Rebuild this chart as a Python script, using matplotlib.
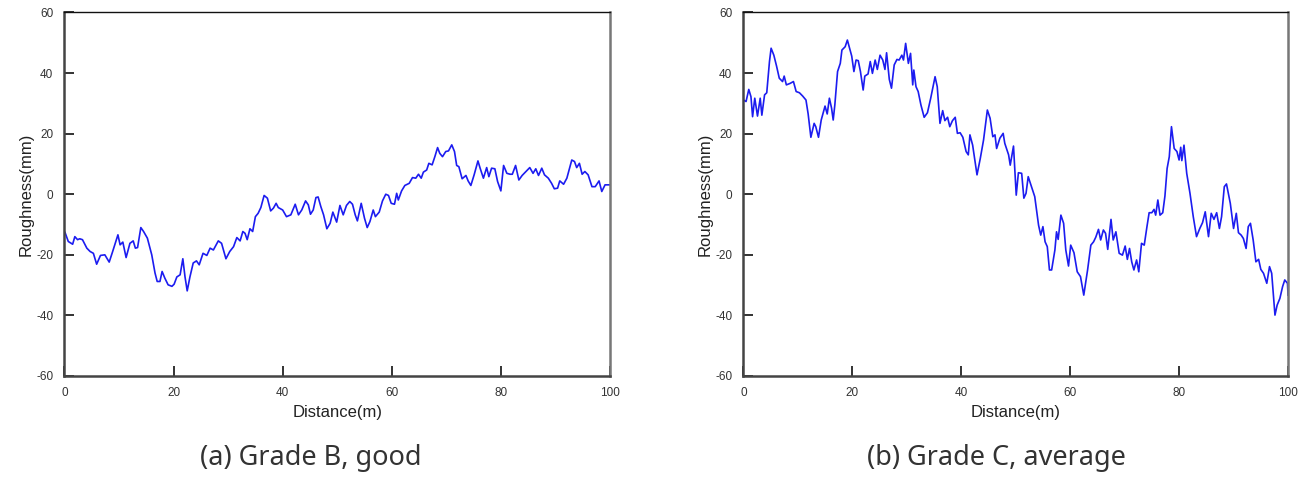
import matplotlib
matplotlib.use("Agg")
import matplotlib.pyplot as plt

# Grade B, good (left panel)
dist_b = [0.1, 0.7, 1.5, 1.9, 2.4, 2.8, 3.3, 4.1, 4.7, 5.3, 5.9, 6.6, 7.4, 8.2, 8.8,
          9.3, 9.8, 10.2, 10.7, 11.3, 12.0, 12.6, 13.0, 13.4, 14.0, 14.5, 15.2, 16.0,
          16.6, 17.0, 17.5, 17.9, 18.4, 19.0, 19.7, 20.1, 20.6, 21.2, 21.7, 22.1, 22.5,
          23.0, 23.6, 24.2, 24.7, 25.4, 26.1, 26.7, 27.3, 28.2, 28.8, 29.6, 30.3, 31.0,
          31.6, 32.2, 32.7, 33.1, 33.5, 34.0, 34.5, 35.0, 35.5, 36.0, 36.6, 37.2, 37.8,
          38.3, 38.8, 39.2, 40.0, 40.7, 41.5, 42.3, 42.9, 43.5, 44.2, 44.7, 45.1, 45.6,
          46.1, 46.5, 47.0, 47.5, 48.1, 48.7, 49.2, 49.9, 50.5, 51.1, 51.7, 52.3, 52.8,
          53.3, 53.7, 54.4, 55.0, 55.5, 56.0, 56.6, 57.0, 57.7, 58.3, 58.9, 59.4, 59.9,
          60.5, 60.9, 61.2, 61.8, 62.4, 63.2, 63.8, 64.4, 64.9, 65.4, 65.8, 66.4, 66.8,
          67.4, 67.9, 68.4, 68.8, 69.3, 69.9, 70.4, 71.0, 71.5, 71.9, 72.3, 72.9, 73.6,
          74.0, 74.5, 75.1, 75.8, 76.2, 76.8, 77.4, 77.8, 78.3, 78.9, 79.4, 80.0, 80.5,
          81.1, 81.7, 82.1, 82.7, 83.3, 83.9, 84.7, 85.3, 85.9, 86.4, 86.9, 87.5, 88.0,
          88.7, 89.3, 89.8, 90.4, 90.8, 91.5, 92.1, 92.5, 93.0, 93.5, 93.9, 94.4, 94.9,
          95.4, 96.0, 96.7, 97.3, 98.0, 98.5, 99.1, 100.0]
rough_b = [-12.6, -15.6, -16.5, -14.0, -15.0, -14.7, -15.0, -17.8, -18.9, -19.5, -23.1,
           -20.2, -20.0, -22.4, -19.1, -16.2, -13.4, -16.7, -15.8, -20.9, -16.2, -15.4,
           -17.8, -17.6, -11.0, -12.3, -14.5, -20.0, -26.0, -28.8, -28.8, -25.5, -27.7,
           -29.9, -30.4, -29.7, -27.3, -26.6, -21.3, -27.3, -31.9, -27.3, -22.7, -22.0,
           -23.3, -19.5, -20.2, -17.8, -18.4, -15.4, -16.2, -21.3, -18.9, -17.3, -14.3,
           -15.4, -12.3, -12.9, -15.0, -11.4, -12.3, -7.4, -6.3, -4.4, -0.4, -1.3, -5.5,
           -4.6, -3.0, -4.4, -5.2, -7.4, -6.8, -3.3, -6.8, -5.2, -2.2, -3.5, -6.6, -5.2,
           -1.1, -0.9, -4.1, -6.8, -11.4, -9.6, -5.9, -9.2, -3.7, -6.8, -3.7, -2.4, -3.3,
           -6.8, -8.8, -3.0, -7.9, -11.0, -9.0, -5.2, -7.4, -5.9, -2.2, 0.0, -0.4, -3.0,
           -3.3, 0.3, -1.9, 1.1, 2.9, 3.6, 5.5, 5.3, 6.6, 5.3, 7.3, 8.0, 10.2, 9.7, 12.4,
           15.4, 13.5, 12.4, 14.1, 14.3, 16.3, 14.1, 9.5, 9.1, 5.1, 6.2, 4.4, 2.9, 6.4,
           11.0, 8.6, 5.3, 8.8, 5.8, 8.6, 8.4, 4.2, 1.1, 9.5, 6.9, 6.6, 6.6, 9.5, 4.7,
           6.2, 7.7, 8.8, 6.9, 8.4, 6.2, 8.6, 6.4, 5.3, 3.6, 1.8, 2.0, 4.4, 3.3, 5.3, 8.0,
           11.3, 10.8, 8.8, 10.2, 6.6, 7.5, 6.4, 2.5, 2.5, 4.4, 0.9, 3.1, 3.1]

# Grade C, average (right panel)
dist_c = [0.0, 0.5, 1.0, 1.4, 1.7, 2.1, 2.6, 3.1, 3.4, 3.9, 4.3, 4.8, 5.1, 5.6, 6.1,
          6.6, 7.2, 7.5, 7.9, 8.6, 9.2, 9.7, 10.3, 10.9, 11.5, 11.9, 12.4, 13.0, 13.3,
          13.8, 14.3, 15.0, 15.4, 15.8, 16.2, 16.5, 16.8, 17.3, 17.8, 18.1, 18.7, 19.1,
          19.5, 19.9, 20.3, 20.7, 21.1, 21.5, 22.0, 22.3, 22.9, 23.3, 23.7, 24.2, 24.6,
          25.1, 25.6, 26.0, 26.3, 26.8, 27.2, 27.7, 28.2, 28.6, 29.1, 29.4, 29.8, 30.3,
          30.7, 31.1, 31.3, 31.7, 32.1, 32.6, 33.2, 33.8, 34.4, 35.2, 35.6, 36.1, 36.6,
          37.0, 37.5, 37.9, 38.4, 38.9, 39.3, 39.8, 40.3, 40.9, 41.3, 41.6, 42.1, 42.9,
          43.5, 44.1, 44.8, 45.3, 45.8, 46.2, 46.5, 47.1, 47.7, 48.0, 48.7, 49.0, 49.6,
          50.1, 50.5, 51.1, 51.5, 51.9, 52.3, 52.9, 53.5, 54.2, 54.6, 55.0, 55.4, 55.8,
          56.2, 56.6, 57.2, 57.5, 57.8, 58.3, 58.8, 59.2, 59.7, 60.1, 60.7, 61.3, 61.9,
          62.5, 63.2, 63.8, 64.3, 64.7, 65.2, 65.6, 66.1, 66.5, 66.9, 67.5, 67.9, 68.4,
          69.0, 69.6, 70.1, 70.5, 70.9, 71.3, 71.7, 72.2, 72.6, 73.1, 73.6, 74.1, 74.5,
          75.0, 75.4, 75.7, 76.1, 76.5, 77.0, 77.4, 77.8, 78.2, 78.6, 79.1, 79.6, 80.0,
          80.3, 80.5, 80.9, 81.4, 82.0, 82.6, 83.2, 83.8, 84.3, 84.8, 85.4, 85.9, 86.4,
          86.9, 87.4, 87.8, 88.3, 88.7, 89.4, 90.0, 90.5, 90.9, 91.4, 91.8, 92.3, 92.7,
          93.1, 93.6, 94.1, 94.6, 95.0, 95.5, 96.1, 96.6, 97.0, 97.6, 98.0, 98.5, 99.0,
          99.4, 99.9, 100.0]
rough_c = [31.1, 30.6, 34.6, 32.2, 25.6, 31.7, 25.8, 31.7, 26.1, 32.8, 33.5, 43.8,
           48.2, 45.9, 42.3, 38.3, 37.2, 39.0, 36.1, 36.6, 37.2, 33.9, 33.5, 32.4, 31.1,
           26.5, 18.8, 23.4, 22.3, 18.8, 24.5, 29.1, 26.5, 31.7, 28.4, 24.5, 29.5, 40.5,
           43.2, 47.6, 48.7, 50.9, 48.2, 45.6, 40.5, 44.3, 44.1, 40.5, 34.4, 39.0, 39.7,
           43.8, 39.9, 44.3, 41.2, 45.9, 44.3, 41.2, 46.7, 37.9, 35.0, 42.7, 44.5, 44.3,
           45.9, 44.3, 49.8, 43.2, 46.5, 36.1, 41.0, 35.5, 33.9, 29.5, 25.4, 26.9, 31.7,
           38.8, 35.5, 23.4, 27.6, 24.3, 25.4, 22.3, 24.3, 25.4, 20.1, 20.3, 18.8, 14.1,
           13.0, 19.6, 16.2, 6.4, 11.8, 17.9, 27.8, 25.1, 19.0, 19.6, 15.1, 18.5, 20.1,
           16.8, 13.0, 9.6, 15.9, -0.3, 7.1, 6.9, -1.3, 0.3, 5.8, 2.5, -0.8, -10.2, -13.5,
           -10.7, -15.7, -17.3, -25.0, -25.0, -18.4, -12.4, -14.9, -6.9, -9.6, -18.4,
           -23.7, -16.8, -19.3, -25.6, -27.2, -33.3, -25.0, -16.8, -15.7, -14.2, -11.6,
           -15.1, -11.8, -12.9, -18.2, -8.3, -15.1, -12.4, -19.5, -20.1, -17.1, -21.5,
           -17.9, -22.3, -25.0, -21.7, -25.6, -16.2, -16.8, -10.7, -6.1, -6.1, -5.0, -6.9,
           -1.9, -6.9, -6.1, -0.6, 8.5, 12.4, 22.3, 15.1, 14.1, 11.3, 15.5, 11.1, 16.2,
           6.9, 0.3, -7.4, -14.0, -11.3, -9.4, -5.8, -14.0, -6.3, -8.3, -6.1, -11.3, -7.4,
           2.5, 3.4, -3.0, -11.3, -6.3, -12.7, -13.5, -14.6, -17.9, -10.7, -9.6, -15.1,
           -22.3, -21.5, -24.8, -26.1, -29.4, -23.9, -26.1, -39.9, -36.6, -34.4, -30.5,
           -28.3, -29.4, -33.3]

x_ticks = [0, 20, 40, 60, 80, 100]
y_ticks = [-60, -40, -20, 0, 20, 40, 60]
captions = ["(a) Grade B, good", "(b) Grade C, average"]

plt.rcParams['font.family'] = ['Liberation Sans', 'DejaVu Sans']
plt.rcParams['axes.unicode_minus'] = False

fig = plt.figure(figsize=(13.05, 4.78), dpi=100)
ax_b = fig.add_axes([0.0494, 0.2134, 0.418, 0.7605])
ax_c = fig.add_axes([0.5696, 0.2134, 0.4174, 0.7605])

for ax, xs, ys in [(ax_b, dist_b, rough_b), (ax_c, dist_c, rough_c)]:
    ax.plot(xs, ys, color='#1c1cf0', linewidth=1.2)
    ax.set_xlim(0, 100)
    ax.set_ylim(-60, 60)
    ax.set_xticks(x_ticks)
    ax.set_yticks(y_ticks)
    ax.tick_params(direction='in', length=7, width=1.4, color='#333333',
                   labelsize=8.5, labelcolor='#333333', pad=8,
                   top=False, right=False)
    ax.spines['left'].set_linewidth(1.8)
    ax.spines['left'].set_color('#444444')
    ax.spines['bottom'].set_linewidth(1.8)
    ax.spines['bottom'].set_color('#444444')
    ax.spines['top'].set_linewidth(1.0)
    ax.spines['top'].set_color('#111111')
    ax.spines['right'].set_linewidth(1.8)
    ax.spines['right'].set_color('#777777')
    ax.set_xlabel("Distance(m)", fontsize=12, color='#222222', labelpad=4)
    ax.set_ylabel("Roughness(mm)", fontsize=12, color='#222222', labelpad=2)

fig.text(311 / 1305, 1 - 458 / 478, captions[0], fontsize=19.5, family='Noto Sans',
         color='#333333', ha='center', va='center')
fig.text(996 / 1305, 1 - 458 / 478, captions[1], fontsize=19.5, family='Noto Sans',
         color='#333333', ha='center', va='center')

fig.savefig("out.png", dpi=100)
